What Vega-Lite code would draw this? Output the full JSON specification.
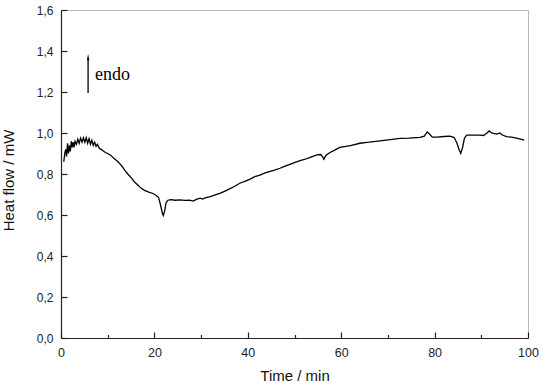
{
  "$schema": "https://vega.github.io/schema/vega-lite/v6.json",
  "width": 467,
  "height": 328,
  "autosize": {"type": "none"},
  "padding": {"left": 61, "top": 10, "right": 15, "bottom": 51},
  "background": "white",
  "config": {
    "view": {"stroke": "#b8b8b8", "strokeWidth": 1},
    "axis": {
      "labelFont": "Liberation Sans",
      "titleFont": "Liberation Sans",
      "labelColor": "#222222",
      "titleColor": "#111111",
      "domainColor": "#222222",
      "tickColor": "#222222",
      "domainWidth": 1.2,
      "tickWidth": 1.2,
      "grid": false
    }
  },
  "layer": [
    {
      "data": {
        "values": [
          {"t": 0.6, "hf": 0.86}, {"t": 0.8, "hf": 0.9}, {"t": 1.0, "hf": 0.92}, {"t": 1.2, "hf": 0.885},
          {"t": 1.4, "hf": 0.95}, {"t": 1.6, "hf": 0.9}, {"t": 1.8, "hf": 0.94}, {"t": 2.0, "hf": 0.91},
          {"t": 2.2, "hf": 0.96}, {"t": 2.4, "hf": 0.93}, {"t": 2.6, "hf": 0.955}, {"t": 2.8, "hf": 0.93},
          {"t": 3.0, "hf": 0.96}, {"t": 3.3, "hf": 0.945}, {"t": 3.6, "hf": 0.97}, {"t": 3.9, "hf": 0.95},
          {"t": 4.2, "hf": 0.975}, {"t": 4.5, "hf": 0.955}, {"t": 4.8, "hf": 0.977}, {"t": 5.1, "hf": 0.955},
          {"t": 5.4, "hf": 0.977}, {"t": 5.7, "hf": 0.95}, {"t": 6.0, "hf": 0.972}, {"t": 6.3, "hf": 0.945},
          {"t": 6.6, "hf": 0.965}, {"t": 6.9, "hf": 0.94}, {"t": 7.2, "hf": 0.955}, {"t": 7.5, "hf": 0.935},
          {"t": 7.8, "hf": 0.945}, {"t": 8.2, "hf": 0.925}, {"t": 8.6, "hf": 0.92}, {"t": 9.0, "hf": 0.913},
          {"t": 9.5, "hf": 0.905}, {"t": 10.0, "hf": 0.9}, {"t": 10.7, "hf": 0.89}, {"t": 11.4, "hf": 0.875},
          {"t": 12.2, "hf": 0.86}, {"t": 13.0, "hf": 0.84}, {"t": 13.6, "hf": 0.82}, {"t": 14.3, "hf": 0.8},
          {"t": 15.1, "hf": 0.78}, {"t": 15.8, "hf": 0.76}, {"t": 16.5, "hf": 0.745}, {"t": 17.2, "hf": 0.73},
          {"t": 17.9, "hf": 0.72}, {"t": 18.8, "hf": 0.712}, {"t": 19.7, "hf": 0.705}, {"t": 20.4, "hf": 0.695},
          {"t": 20.9, "hf": 0.685}, {"t": 21.3, "hf": 0.65}, {"t": 21.7, "hf": 0.61}, {"t": 21.9, "hf": 0.598},
          {"t": 22.2, "hf": 0.62}, {"t": 22.5, "hf": 0.66}, {"t": 22.9, "hf": 0.672}, {"t": 23.5, "hf": 0.675},
          {"t": 24.5, "hf": 0.672}, {"t": 25.5, "hf": 0.674}, {"t": 26.5, "hf": 0.671}, {"t": 27.5, "hf": 0.673},
          {"t": 28.3, "hf": 0.668}, {"t": 29.0, "hf": 0.676}, {"t": 29.8, "hf": 0.682}, {"t": 30.3, "hf": 0.678},
          {"t": 31.0, "hf": 0.685}, {"t": 32.0, "hf": 0.69}, {"t": 33.0, "hf": 0.698}, {"t": 34.0, "hf": 0.706},
          {"t": 35.0, "hf": 0.715}, {"t": 36.0, "hf": 0.726}, {"t": 37.0, "hf": 0.738}, {"t": 38.3, "hf": 0.755},
          {"t": 39.5, "hf": 0.765}, {"t": 40.5, "hf": 0.775}, {"t": 41.5, "hf": 0.787}, {"t": 42.6, "hf": 0.795},
          {"t": 43.7, "hf": 0.805}, {"t": 44.8, "hf": 0.813}, {"t": 45.9, "hf": 0.82}, {"t": 46.9, "hf": 0.828},
          {"t": 48.0, "hf": 0.838}, {"t": 49.0, "hf": 0.847}, {"t": 50.0, "hf": 0.855}, {"t": 51.2, "hf": 0.865},
          {"t": 52.3, "hf": 0.872}, {"t": 53.5, "hf": 0.882}, {"t": 54.8, "hf": 0.893}, {"t": 55.6, "hf": 0.895},
          {"t": 56.0, "hf": 0.885}, {"t": 56.3, "hf": 0.872}, {"t": 56.7, "hf": 0.89}, {"t": 57.6, "hf": 0.905},
          {"t": 58.5, "hf": 0.915}, {"t": 59.7, "hf": 0.93}, {"t": 61.0, "hf": 0.935}, {"t": 62.0, "hf": 0.938},
          {"t": 64.0, "hf": 0.95}, {"t": 66.0, "hf": 0.955}, {"t": 68.3, "hf": 0.962}, {"t": 70.5, "hf": 0.968},
          {"t": 72.6, "hf": 0.974}, {"t": 74.5, "hf": 0.975}, {"t": 76.9, "hf": 0.979}, {"t": 77.8, "hf": 0.985},
          {"t": 78.4, "hf": 1.005}, {"t": 78.9, "hf": 0.995}, {"t": 79.5, "hf": 0.98}, {"t": 80.5, "hf": 0.98},
          {"t": 82.0, "hf": 0.983}, {"t": 83.3, "hf": 0.985}, {"t": 84.2, "hf": 0.978}, {"t": 84.8, "hf": 0.95},
          {"t": 85.3, "hf": 0.915}, {"t": 85.6, "hf": 0.9}, {"t": 86.0, "hf": 0.93}, {"t": 86.4, "hf": 0.975},
          {"t": 86.9, "hf": 0.99}, {"t": 88.0, "hf": 0.99}, {"t": 89.7, "hf": 0.99}, {"t": 90.5, "hf": 0.988},
          {"t": 91.2, "hf": 1.0}, {"t": 91.7, "hf": 1.01}, {"t": 92.2, "hf": 1.0}, {"t": 93.3, "hf": 0.995},
          {"t": 94.0, "hf": 1.0}, {"t": 94.5, "hf": 0.99}, {"t": 95.4, "hf": 0.982}, {"t": 96.5, "hf": 0.98},
          {"t": 97.5, "hf": 0.975}, {"t": 98.6, "hf": 0.969}, {"t": 99.2, "hf": 0.965}
        ]
      },
      "mark": {"type": "line", "color": "black", "strokeWidth": 1.3},
      "encoding": {
        "x": {
          "field": "t", "type": "quantitative",
          "scale": {"domain": [0, 100], "nice": false, "zero": false},
          "axis": {
            "title": "Time / min",
            "titleFontSize": 15,
            "titleFontWeight": "normal",
            "titleBaseline": "alphabetic",
            "titleY": 42,
            "values": [0, 10, 20, 30, 40, 50, 60, 70, 80, 90, 100],
            "labelExpr": "datum.value % 20 == 0 ? datum.label : ''",
            "labelFontSize": 12.5,
            "labelFlush": false,
            "labelPadding": 14,
            "tickSize": -6,
            "tickDash": {"condition": {"test": "datum.value % 20 == 0", "value": [6, 0]}, "value": [3.5, 20]}
          }
        },
        "y": {
          "field": "hf", "type": "quantitative",
          "scale": {"domain": [0, 1.6], "nice": false, "zero": true},
          "axis": {
            "title": "Heat flow / mW",
            "titleFontSize": 15,
            "titleFontWeight": "normal",
            "titleAngle": 270,
            "titleBaseline": "alphabetic",
            "titleX": -48,
            "titleY": 170,
            "values": [0, 0.1, 0.2, 0.3, 0.4, 0.5, 0.6, 0.7, 0.8, 0.9, 1.0, 1.1, 1.2, 1.3, 1.4, 1.5, 1.6],
            "labelExpr": "round(datum.value*10) % 2 == 0 ? replace(format(datum.value, '.1f'), '.', ',') : ''",
            "labelFontSize": 12,
            "labelPadding": 14,
            "tickSize": -6,
            "tickDash": {"condition": {"test": "round(datum.value*10) % 2 == 0", "value": [6, 0]}, "value": [3.5, 20]}
          }
        }
      }
    },
    {
      "data": {"values": [{"t": 5.8, "hf": 1.195, "hf2": 1.36}]},
      "mark": {"type": "rule", "color": "black", "strokeWidth": 1.3},
      "encoding": {
        "x": {"field": "t", "type": "quantitative"},
        "y": {"field": "hf", "type": "quantitative"},
        "y2": {"field": "hf2"}
      }
    },
    {
      "data": {"values": [{"t": 5.8, "hf": 1.37}]},
      "mark": {"type": "point", "shape": "M-0.4,1L0,-1L0.4,1Z", "filled": true, "color": "black", "size": 40, "opacity": 1},
      "encoding": {
        "x": {"field": "t", "type": "quantitative"},
        "y": {"field": "hf", "type": "quantitative"}
      }
    },
    {
      "data": {"values": [{"t": 7.3, "hf": 1.26, "label": "endo"}]},
      "mark": {"type": "text", "font": "Liberation Serif", "fontSize": 18, "align": "left", "baseline": "alphabetic", "color": "black"},
      "encoding": {
        "x": {"field": "t", "type": "quantitative"},
        "y": {"field": "hf", "type": "quantitative"},
        "text": {"field": "label"}
      }
    }
  ]
}
